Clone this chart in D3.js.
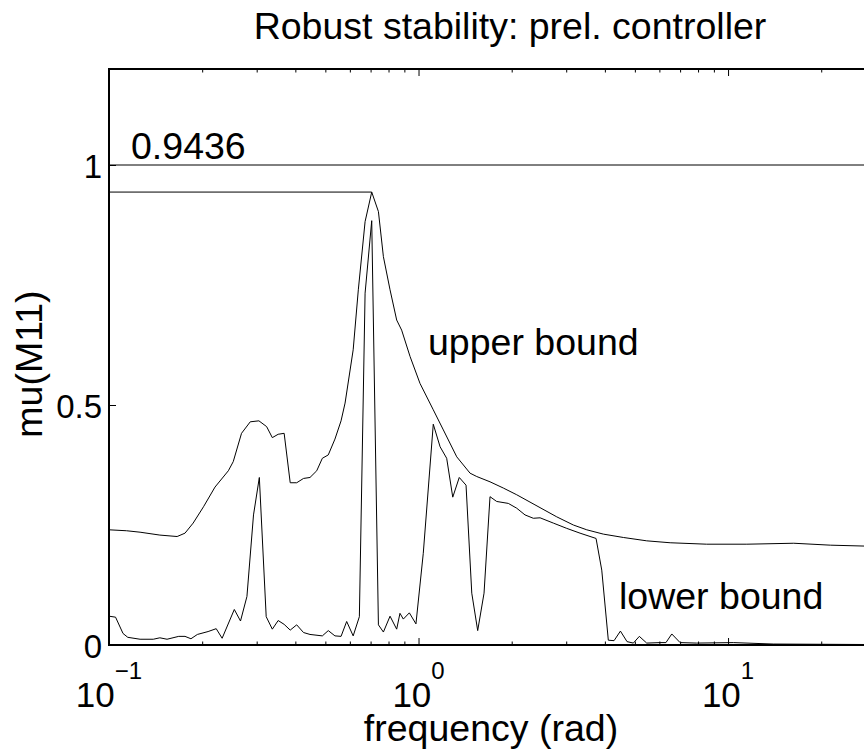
<!DOCTYPE html>
<html>
<head>
<meta charset="utf-8">
<script src="https://cdn.jsdelivr.net/npm/d3@7"></script>
<style>
  html, body { margin: 0; padding: 0; background: #fff; }
  svg { display: block; }
  text { font-family: "Liberation Sans", Arial, Helvetica, sans-serif; fill: #000; }
</style>
</head>
<body>
<div id="chart"></div>
<script>
// mu plot: upper / lower bound of structured singular value vs frequency.
// Values. The axes box runs past the right
// edge of the page (the reference is cropped there).

const upperFreq = [0.1, 0.114, 0.126, 0.146, 0.166, 0.176, 0.187, 0.202, 0.220, 0.243,
    0.252, 0.268, 0.286, 0.305, 0.323, 0.337, 0.352, 0.368, 0.385, 0.404,
    0.425, 0.446, 0.469, 0.489, 0.511, 0.537, 0.562, 0.579, 0.615, 0.639,
    0.672, 0.706, 0.742, 0.770, 0.809, 0.850, 0.882, 0.939, 1.011, 1.116,
    1.203, 1.329, 1.467, 1.542, 1.702, 1.879, 2.076, 2.378, 2.796, 3.164,
    3.496, 3.955, 4.59, 5.46, 6.50, 8.53, 11.5, 16.3, 21.4, 27.9, 39];
const upperMu = [0.240, 0.238, 0.235, 0.229, 0.226, 0.233, 0.254, 0.288, 0.329, 0.363,
    0.382, 0.441, 0.465, 0.467, 0.455, 0.432, 0.439, 0.441, 0.338, 0.338,
    0.347, 0.349, 0.363, 0.389, 0.396, 0.429, 0.467, 0.504, 0.615, 0.740,
    0.882, 0.9436, 0.903, 0.809, 0.740, 0.677, 0.656, 0.601, 0.545, 0.490,
    0.448, 0.392, 0.358, 0.351, 0.340, 0.327, 0.313, 0.292, 0.267, 0.250,
    0.240, 0.231, 0.224, 0.217, 0.213, 0.210, 0.210, 0.212, 0.208, 0.206, 0.205];

const lowerFreq = [0.1, 0.105, 0.111, 0.115, 0.126, 0.139, 0.146, 0.154, 0.168, 0.176,
    0.184, 0.193, 0.209, 0.222, 0.232, 0.254, 0.266, 0.279, 0.293, 0.306,
    0.322, 0.337, 0.352, 0.368, 0.385, 0.404, 0.425, 0.446, 0.489, 0.511,
    0.537, 0.562, 0.586, 0.615, 0.644, 0.672, 0.706, 0.742, 0.770, 0.809,
    0.850, 0.871, 0.893, 0.934, 0.981, 1.036, 1.116, 1.174, 1.233, 1.290,
    1.354, 1.424, 1.486, 1.553, 1.628, 1.702, 1.789, 1.950, 2.076, 2.208,
    2.349, 2.470, 2.726, 3.012, 3.325, 3.746, 3.908, 4.104, 4.282, 4.490,
    4.717, 4.943, 5.169, 5.46, 6.03, 6.30, 6.58, 7.00, 7.92, 10.4,
    14.0, 27.9, 39];
const lowerMu = [0.060, 0.058, 0.024, 0.016, 0.012, 0.012, 0.015, 0.012, 0.018, 0.018,
    0.013, 0.022, 0.028, 0.034, 0.014, 0.074, 0.050, 0.101, 0.271, 0.349,
    0.059, 0.033, 0.051, 0.043, 0.031, 0.042, 0.026, 0.022, 0.019, 0.030,
    0.019, 0.018, 0.049, 0.019, 0.059, 0.733, 0.884, 0.042, 0.027, 0.060,
    0.033, 0.066, 0.054, 0.067, 0.044, 0.191, 0.460, 0.413, 0.389, 0.308,
    0.349, 0.333, 0.108, 0.030, 0.108, 0.309, 0.299, 0.295, 0.285, 0.271,
    0.264, 0.265, 0.254, 0.243, 0.233, 0.222, 0.156, 0.010, 0.009, 0.029,
    0.007, 0.004, 0.018, 0.004, 0.005, 0.005, 0.023, 0.005, 0.004, 0.005,
    0.002, 0.001, 0.001];

const peakValue = 0.9436;
const peakFreq = 0.706;
const unityLevel = 1;

const xTickValues = [0.1, 1, 10];
const xTickExps = ["\u22121", "0", "1"];
const yTickValues = [0, 0.5, 1];
const yTickLabels = ["0", "0.5", "1"];

const WIDTH = 864;
const HEIGHT = 753;
const PLOT = { left: 109, top: 69, right: 911, bottom: 645 };
const FONT = 37.5;

const svg = d3.select("#chart").append("svg")
    .attr("width", WIDTH)
    .attr("height", HEIGHT)
    .attr("viewBox", `0 0 ${WIDTH} ${HEIGHT}`);

const x = d3.scaleLog()
    .domain([0.1, 39])
    .range([PLOT.left, PLOT.right]);

const y = d3.scaleLinear()
    .domain([0, 1.2])
    .range([PLOT.bottom, PLOT.top]);

svg.append("clipPath").attr("id", "plot-clip")
    .append("rect")
    .attr("x", PLOT.left).attr("y", PLOT.top)
    .attr("width", PLOT.right - PLOT.left)
    .attr("height", PLOT.bottom - PLOT.top);

const line = d3.line()
    .x((d) => x(d[0]))
    .y((d) => y(d[1]));

const plot = svg.append("g").attr("clip-path", "url(#plot-clip)");

// reference lines: mu = 1 and the peak upper bound
plot.append("path")
    .attr("d", line([[x.domain()[0], unityLevel], [x.domain()[1], unityLevel]]))
    .attr("fill", "none").attr("stroke", "#000").attr("stroke-width", 1);

plot.append("path")
    .attr("d", line([[x.domain()[0], peakValue], [peakFreq, peakValue]]))
    .attr("fill", "none").attr("stroke", "#000").attr("stroke-width", 1);

plot.append("path")
    .attr("d", line(d3.zip(upperFreq, upperMu)))
    .attr("fill", "none").attr("stroke", "#000").attr("stroke-width", 1)
    .attr("stroke-linejoin", "round");

plot.append("path")
    .attr("d", line(d3.zip(lowerFreq, lowerMu)))
    .attr("fill", "none").attr("stroke", "#000").attr("stroke-width", 1)
    .attr("stroke-linejoin", "round");

// --- axes: ticks point inward, labels drawn by hand for the 10^n form ---

const minorTicks = x.ticks().filter((v) => !xTickValues.includes(v));

function tickAxis(axisFn, scale, values, size, translate) {
    const g = svg.append("g")
        .attr("transform", translate)
        .call(axisFn(scale).tickValues(values).tickSize(-size).tickFormat(""));
    g.select(".domain").remove();
    g.selectAll(".tick line").attr("stroke", "#000").attr("stroke-width", 1);
    return g;
}

tickAxis(d3.axisBottom, x, xTickValues, 7, `translate(0,${PLOT.bottom})`);
tickAxis(d3.axisBottom, x, minorTicks, 3.5, `translate(0,${PLOT.bottom})`);
tickAxis(d3.axisTop, x, xTickValues, 7, `translate(0,${PLOT.top})`);
tickAxis(d3.axisTop, x, minorTicks, 3.5, `translate(0,${PLOT.top})`);
tickAxis(d3.axisLeft, y, yTickValues, 7, `translate(${PLOT.left},0)`);
tickAxis(d3.axisRight, y, yTickValues, 7, `translate(${PLOT.right},0)`);

// frame
svg.append("rect")
    .attr("x", PLOT.left).attr("y", PLOT.top)
    .attr("width", PLOT.right - PLOT.left)
    .attr("height", PLOT.bottom - PLOT.top)
    .attr("fill", "none").attr("stroke", "#000").attr("stroke-width", 2);

// x tick labels: "10" with a superscript exponent, centred as a whole
xTickValues.forEach((v, i) => {
    const t = svg.append("text")
        .attr("x", x(v))
        .attr("y", 707)
        .attr("text-anchor", "middle")
        .attr("font-size", 35);
    t.append("tspan").text("10");
    t.append("tspan").attr("dy", -28).attr("font-size", 24).text(xTickExps[i]);
});

yTickValues.forEach((v, i) => {
    svg.append("text")
        .attr("x", 102)
        .attr("y", y(v) + 13)
        .attr("text-anchor", "end")
        .attr("font-size", 33)
        .text(yTickLabels[i]);
});

// titles and annotations
svg.append("text")
    .attr("x", 510).attr("y", 39)
    .attr("text-anchor", "middle")
    .attr("font-size", FONT)
    .text("Robust stability: prel. controller");

svg.append("text")
    .attr("x", 491).attr("y", 741)
    .attr("text-anchor", "middle")
    .attr("font-size", FONT)
    .text("frequency (rad)");

svg.append("text")
    .attr("transform", "translate(42,364) rotate(-90)")
    .attr("text-anchor", "middle")
    .attr("font-size", FONT)
    .text("mu(M11)");

svg.append("text")
    .attr("x", 131).attr("y", 159)
    .attr("font-size", FONT)
    .text(String(peakValue));

svg.append("text")
    .attr("x", 428).attr("y", 355)
    .attr("font-size", FONT)
    .text("upper bound");

svg.append("text")
    .attr("x", 619).attr("y", 609)
    .attr("font-size", FONT)
    .text("lower bound");
</script>
</body>
</html>
